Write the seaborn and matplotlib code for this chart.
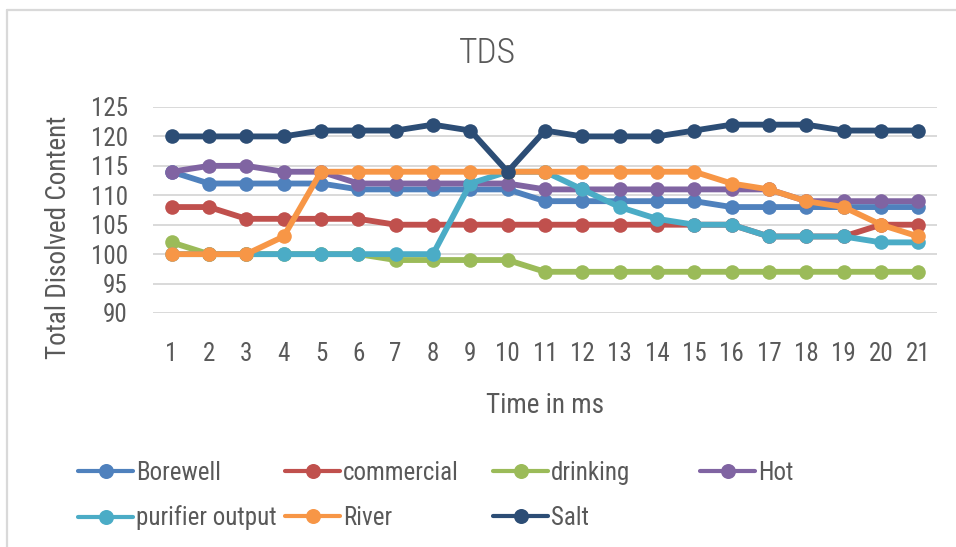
import matplotlib
matplotlib.use("Agg")
import matplotlib.pyplot as plt
from matplotlib.lines import Line2D
from matplotlib import font_manager as fm
import seaborn as sns
import pandas as pd

time_ms = list(range(1, 22))
borewell = [114, 112, 112, 112, 112, 111, 111, 111, 111, 111, 109, 109, 109, 109, 109, 108, 108, 108, 108, 108, 108]
commercial = [108, 108, 106, 106, 106, 106, 105, 105, 105, 105, 105, 105, 105, 105, 105, 105, 103, 103, 103, 105, 105]
drinking = [102, 100, 100, 100, 100, 100, 99, 99, 99, 99, 97, 97, 97, 97, 97, 97, 97, 97, 97, 97, 97]
hot = [114, 115, 115, 114, 114, 112, 112, 112, 112, 112, 111, 111, 111, 111, 111, 111, 111, 109, 109, 109, 109]
purifier = [100, 100, 100, 100, 100, 100, 100, 100, 112, 114, 114, 111, 108, 106, 105, 105, 103, 103, 103, 102, 102]
river = [100, 100, 100, 103, 114, 114, 114, 114, 114, 114, 114, 114, 114, 114, 114, 112, 111, 109, 108, 105, 103]
salt = [120, 120, 120, 120, 121, 121, 121, 122, 121, 114, 121, 120, 120, 120, 121, 122, 122, 122, 121, 121, 121]

series_names = ["Borewell", "commercial", "drinking", "Hot", "purifier output", "River", "Salt"]
series_values = [borewell, commercial, drinking, hot, purifier, river, salt]
colors = ["#4F81BD", "#C0504D", "#9BBB59", "#8064A2", "#4BACC6", "#F79646", "#2C4D75"]
y_ticks = [90, 95, 100, 105, 110, 115, 120, 125]

rows = []
for name, vals in zip(series_names, series_values):
    for t, v in zip(time_ms, vals):
        rows.append({"time": t, "value": v, "series": name})
df = pd.DataFrame(rows)

available = {f.name for f in fm.fontManager.ttflist}
FONT = next((f for f in ["Roboto Condensed", "IBM Plex Sans Condensed", "Open Sans Condensed", "Roboto"]
             if f in available), "DejaVu Sans")

sns.set_style("white")
plt.rcParams["font.family"] = [FONT, "DejaVu Sans"]
TXT = "#595959"

W, H = 956, 547
fig = plt.figure(figsize=(W / 100, H / 100), dpi=100)
L, R, T, B = 153, 937, 107, 313
ax = fig.add_axes([L / W, 1 - B / H, (R - L) / W, (B - T) / H])

palette = dict(zip(series_names, colors))
sns.lineplot(data=df, x="time", y="value", hue="series", hue_order=series_names,
             palette=palette, marker="o", markersize=10.5, markeredgewidth=0,
             linewidth=4.2, ax=ax, legend=False, zorder=3)

ax.set_xlim(0.5, 21.5)
ax.set_ylim(90, 125)
ax.set_yticks(y_ticks)
ax.set_xticks(time_ms)
ax.set_xticklabels([str(t) for t in time_ms])
ax.grid(axis="y", color="#d9d9d9", linewidth=1.4, zorder=0)
ax.grid(axis="x", visible=False)
for s in ax.spines.values():
    s.set_visible(False)
ax.tick_params(axis="both", length=0, labelsize=18, labelcolor=TXT)
ax.tick_params(axis="x", pad=21)
ax.tick_params(axis="y", pad=18)

ax.set_xlabel("Time in ms", fontsize=19.5, color=TXT, va="baseline")
ax.xaxis.set_label_coords(0.5006, -0.4854)
ax.set_ylabel("Total Disolved Content", fontsize=19.5, color=TXT, va="center")
ax.yaxis.set_label_coords(-0.1199, 0.3665)

fig.text(487 / W, 1 - 63 / H, "TDS", ha="center", va="baseline", fontsize=25.5,
         color=TXT, fontweight="light")

# border
fig.add_artist(Line2D([7 / W, 1], [1 - 10 / H, 1 - 10 / H], color="#d9d9d9", lw=1.6,
                      transform=fig.transFigure))
fig.add_artist(Line2D([7 / W, 7 / W], [0, 1 - 10 / H], color="#d9d9d9", lw=1.6,
                      transform=fig.transFigure))

# legend: 4 columns x 2 rows, row-major as in the original
handles = {n: Line2D([], [], color=c, lw=3.0, marker="o", markersize=10.8,
                     markeredgewidth=0) for n, c in zip(series_names, colors)}
col_x = [78, 285, 493, 700]
row_y = [473, 518]
for i, n in enumerate(series_names):
    x = col_x[i % 4]
    y = row_y[i // 4]
    fig.legend([handles[n]], [n], loc="center left",
               bbox_to_anchor=(x / W, 1 - y / H), frameon=False, borderpad=0,
               borderaxespad=0, handlelength=2.2, handletextpad=0.12,
               prop={"size": 18}, labelcolor=TXT)

fig.savefig("out.png", dpi=100)
